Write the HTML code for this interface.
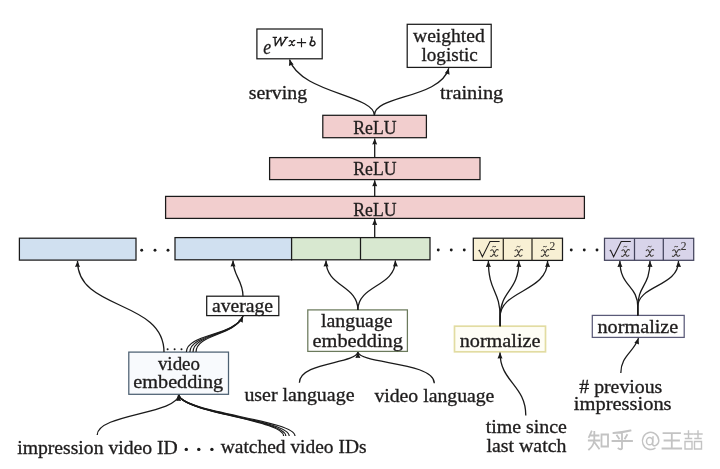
<!DOCTYPE html>
<html><head><meta charset="utf-8"><style>
html,body{margin:0;padding:0;background:#fff;}
svg{display:block;filter:blur(0.3px);}
text{font-family:"Liberation Serif",serif;stroke:#1e1c1c;stroke-width:0.3px;}
</style></head><body>
<svg width="720" height="469" viewBox="0 0 720 469">
<rect width="720" height="469" fill="#fff"/>
<rect x="256.9" y="29.0" width="65.30" height="29.80" fill="#fff" stroke="#1a1a1a" stroke-width="1.25"/>
<rect x="407.2" y="24.3" width="84.00" height="43.10" fill="#fff" stroke="#1a1a1a" stroke-width="1.25"/>
<rect x="322.8" y="115.3" width="103.60" height="22.40" fill="#f2cece" stroke="#1a1a1a" stroke-width="1.25"/>
<rect x="269.6" y="157.6" width="210.40" height="22.00" fill="#f2cece" stroke="#1a1a1a" stroke-width="1.25"/>
<rect x="165.6" y="196.4" width="418.80" height="22.00" fill="#f2cece" stroke="#1a1a1a" stroke-width="1.25"/>
<rect x="19.4" y="238.2" width="116.60" height="21.90" fill="#d0e0f0" stroke="#1a1a1a" stroke-width="1.25"/>
<rect x="175" y="237.6" width="116.60" height="22.20" fill="#d0e0f0" stroke="#1a1a1a" stroke-width="1.25"/>
<rect x="291.6" y="237.6" width="138.40" height="22.20" fill="#d8e8d0" stroke="#1a1a1a" stroke-width="1.25"/>
<line x1="360.5" y1="237.6" x2="360.5" y2="259.8" stroke="#1a1a1a" stroke-width="1.25"/>
<rect x="473.3" y="238.2" width="89.20" height="22.20" fill="#f8f0d4" stroke="#1a1a1a" stroke-width="1.25"/>
<line x1="503.3" y1="238.2" x2="503.3" y2="260.4" stroke="#2e2a20" stroke-width="1.25"/>
<line x1="532" y1="238.2" x2="532" y2="260.4" stroke="#2e2a20" stroke-width="1.25"/>
<rect x="604.5" y="238.3" width="89.20" height="22.00" fill="#d8d4ea" stroke="#44445c" stroke-width="1.25"/>
<line x1="634.5" y1="238.3" x2="634.5" y2="260.3" stroke="#44445c" stroke-width="1.25"/>
<line x1="663.3" y1="238.3" x2="663.3" y2="260.3" stroke="#44445c" stroke-width="1.25"/>
<circle cx="141.7" cy="250.3" r="1.45" fill="#1a1a1a"/>
<circle cx="155" cy="250.3" r="1.45" fill="#1a1a1a"/>
<circle cx="168" cy="250.3" r="1.45" fill="#1a1a1a"/>
<circle cx="438.25" cy="250" r="1.45" fill="#1a1a1a"/>
<circle cx="451.25" cy="250" r="1.45" fill="#1a1a1a"/>
<circle cx="464.25" cy="250" r="1.45" fill="#1a1a1a"/>
<circle cx="571.25" cy="250" r="1.45" fill="#1a1a1a"/>
<circle cx="584.25" cy="250" r="1.45" fill="#1a1a1a"/>
<circle cx="597" cy="250" r="1.45" fill="#1a1a1a"/>
<rect x="206.7" y="296.2" width="72.10" height="19.40" fill="#fff" stroke="#1a1a1a" stroke-width="1.25"/>
<rect x="128.8" y="352.1" width="99.70" height="42.20" fill="#f8fafd" stroke="#4c6072" stroke-width="1.25"/>
<rect x="307.8" y="309.9" width="99.60" height="41.50" fill="#fff" stroke="#6b7a5c" stroke-width="1.25"/>
<rect x="454.5" y="326.2" width="91.00" height="25.60" fill="#fefdf5" stroke="#e2dca2" stroke-width="1.7"/>
<rect x="592.3" y="315.4" width="91.90" height="22.00" fill="#fff" stroke="#5a5a78" stroke-width="1.25"/>
<circle cx="167.6" cy="349.2" r="1.0" fill="#1a1a1a"/>
<circle cx="174.6" cy="349.2" r="1.0" fill="#1a1a1a"/>
<circle cx="181.5" cy="349.2" r="1.0" fill="#1a1a1a"/>
<circle cx="186.3" cy="449.4" r="1.7" fill="#1a1a1a"/>
<circle cx="198.8" cy="449.4" r="1.7" fill="#1a1a1a"/>
<circle cx="211.9" cy="449.4" r="1.7" fill="#1a1a1a"/>
<text x="248.7" y="98.9" font-size="18.0" textLength="58.50" lengthAdjust="spacingAndGlyphs" fill="#1e1c1c">serving</text>
<text x="440" y="98.9" font-size="18.0" textLength="63.30" lengthAdjust="spacingAndGlyphs" fill="#1e1c1c">training</text>
<text x="413" y="42.0" font-size="18.0" textLength="71.80" lengthAdjust="spacingAndGlyphs" fill="#1e1c1c">weighted</text>
<text x="421.5" y="60.8" font-size="18.0" textLength="56.30" lengthAdjust="spacingAndGlyphs" fill="#1e1c1c">logistic</text>
<text x="353.3" y="133.8" font-size="18.0" textLength="43.20" lengthAdjust="spacingAndGlyphs" fill="#1e1c1c">ReLU</text>
<text x="353.3" y="175.3" font-size="18.0" textLength="43.20" lengthAdjust="spacingAndGlyphs" fill="#1e1c1c">ReLU</text>
<text x="353.3" y="216.1" font-size="18.0" textLength="43.20" lengthAdjust="spacingAndGlyphs" fill="#1e1c1c">ReLU</text>
<text x="211.9" y="311.9" font-size="18.0" textLength="61.20" lengthAdjust="spacingAndGlyphs" fill="#1e1c1c">average</text>
<text x="157.9" y="370.1" font-size="18.0" textLength="42.10" lengthAdjust="spacingAndGlyphs" fill="#1e1c1c">video</text>
<text x="133.3" y="388.2" font-size="18.0" textLength="89.90" lengthAdjust="spacingAndGlyphs" fill="#1e1c1c">embedding</text>
<text x="321" y="327.4" font-size="18.0" textLength="71.60" lengthAdjust="spacingAndGlyphs" fill="#1e1c1c">language</text>
<text x="312.6" y="346.9" font-size="18.0" textLength="90.30" lengthAdjust="spacingAndGlyphs" fill="#1e1c1c">embedding</text>
<text x="459.7" y="346.6" font-size="18.0" textLength="80.80" lengthAdjust="spacingAndGlyphs" fill="#1e1c1c">normalize</text>
<text x="597.5" y="333.0" font-size="18.0" textLength="80.80" lengthAdjust="spacingAndGlyphs" fill="#1e1c1c">normalize</text>
<text x="244.4" y="400.6" font-size="18.0" textLength="110.10" lengthAdjust="spacingAndGlyphs" fill="#1e1c1c">user language</text>
<text x="374.4" y="402.2" font-size="18.0" textLength="120.00" lengthAdjust="spacingAndGlyphs" fill="#1e1c1c">video language</text>
<text x="485.7" y="433.0" font-size="18.0" textLength="81.20" lengthAdjust="spacingAndGlyphs" fill="#1e1c1c">time since</text>
<text x="486.5" y="451.8" font-size="18.0" textLength="79.90" lengthAdjust="spacingAndGlyphs" fill="#1e1c1c">last watch</text>
<text x="579.3" y="392.8" font-size="18.0" textLength="83.00" lengthAdjust="spacingAndGlyphs" fill="#1e1c1c"># previous</text>
<text x="573.8" y="410.3" font-size="18.0" textLength="97.80" lengthAdjust="spacingAndGlyphs" fill="#1e1c1c">impressions</text>
<text x="17.2" y="453.8" font-size="18.0" textLength="160.60" lengthAdjust="spacingAndGlyphs" fill="#1e1c1c">impression video ID</text>
<text x="220.8" y="452.8" font-size="18.0" textLength="145.70" lengthAdjust="spacingAndGlyphs" fill="#1e1c1c">watched video IDs</text>
<text x="263.3" y="53.8" font-size="20" textLength="7.90" lengthAdjust="spacingAndGlyphs" fill="#1e1c1c" font-style="italic">e</text>
<path d="M272.6,37.4 H277 M284.2,37.4 H288.2 M274.9,37.4 L275.4,45.7 L280.6,37.6 L281.3,45.7 L286.6,37.4" fill="none" stroke="#1e1c1c" stroke-width="1.4" stroke-linejoin="round"/>
<path d="M289.06,41.49 C289.59,40.35 290.80,40.12 291.26,41.41 L292.32,44.66 C292.62,45.80 294.06,45.88 294.74,44.44 M295.05,41.03 C294.74,40.20 293.61,40.20 293.08,41.11 L290.65,44.97 C290.12,45.88 289.13,45.88 288.75,45.12" fill="none" stroke="#1e1c1c" stroke-width="1.25"/>
<path d="M301.5,38.3 V47.2 M296.9,42.6 H306.1" fill="none" stroke="#1e1c1c" stroke-width="1.15"/>
<path d="M310.4,37.1 H312.2 L310.0,45.3" fill="none" stroke="#1e1c1c" stroke-width="1.35"/>
<ellipse cx="312.6" cy="43.4" rx="2.4" ry="2.3" fill="none" stroke="#1e1c1c" stroke-width="1.3" transform="rotate(-20 312.6 43.4)"/>
<path d="M374.4,115.3 C374.4,95 300,93 289.5,59.5" fill="none" stroke="#1a1a1a" stroke-width="1.3"/>
<path d="M289.50,59.50 L293.68,64.48 L291.20,64.94 L288.91,65.97 Z" fill="#1a1a1a"/>
<path d="M374.4,115.3 C374.4,95 440,99 448.8,68.2" fill="none" stroke="#1a1a1a" stroke-width="1.3"/>
<path d="M448.80,68.20 L449.56,74.66 L447.23,73.68 L444.75,73.28 Z" fill="#1a1a1a"/>
<path d="M374.7,157.6 L374.7,138.4" fill="none" stroke="#1a1a1a" stroke-width="1.3"/>
<path d="M374.70,138.40 L377.20,144.40 L374.70,144.10 L372.20,144.40 Z" fill="#1a1a1a"/>
<path d="M374.7,196.4 L374.7,180.3" fill="none" stroke="#1a1a1a" stroke-width="1.3"/>
<path d="M374.70,180.30 L377.20,186.30 L374.70,186.00 L372.20,186.30 Z" fill="#1a1a1a"/>
<path d="M374.7,237.6 L374.7,219.1" fill="none" stroke="#1a1a1a" stroke-width="1.3"/>
<path d="M374.70,219.10 L377.20,225.10 L374.70,224.80 L372.20,225.10 Z" fill="#1a1a1a"/>
<path d="M164,352.1 C164,299.2 77.5,311.4 77.5,260.9" fill="none" stroke="#1a1a1a" stroke-width="1.3"/>
<path d="M77.50,260.90 L80.00,266.90 L77.50,266.60 L75.00,266.90 Z" fill="#1a1a1a"/>
<path d="M243,296.2 C243,280 233,276 233,260.6" fill="none" stroke="#1a1a1a" stroke-width="1.3"/>
<path d="M233.00,260.60 L235.50,266.60 L233.00,266.30 L230.50,266.60 Z" fill="#1a1a1a"/>
<path d="M357.9,309.9 C357.9,285 326,287 326,260.6" fill="none" stroke="#1a1a1a" stroke-width="1.3"/>
<path d="M326.00,260.60 L328.50,266.60 L326.00,266.30 L323.50,266.60 Z" fill="#1a1a1a"/>
<path d="M357.9,309.9 C357.9,285 395.4,287 395.4,260.6" fill="none" stroke="#1a1a1a" stroke-width="1.3"/>
<path d="M395.40,260.60 L397.90,266.60 L395.40,266.30 L392.90,266.60 Z" fill="#1a1a1a"/>
<path d="M500.1,326.2 L500.1,317 C500.1,290 488.4,292 488.4,261.1" fill="none" stroke="#1a1a1a" stroke-width="1.3"/>
<path d="M488.40,261.10 L490.90,267.10 L488.40,266.80 L485.90,267.10 Z" fill="#1a1a1a"/>
<path d="M500.1,326.2 L500.1,317 C500.1,290 518.8,292 518.8,261.1" fill="none" stroke="#1a1a1a" stroke-width="1.3"/>
<path d="M518.80,261.10 L521.30,267.10 L518.80,266.80 L516.30,267.10 Z" fill="#1a1a1a"/>
<path d="M500.1,326.2 L500.1,317 C500.1,290 547.6,292 547.6,261.1" fill="none" stroke="#1a1a1a" stroke-width="1.3"/>
<path d="M547.60,261.10 L550.10,267.10 L547.60,266.80 L545.10,267.10 Z" fill="#1a1a1a"/>
<path d="M637.8,315.4 L637.8,307 C637.8,285 619.9,287 619.9,261.0" fill="none" stroke="#1a1a1a" stroke-width="1.3"/>
<path d="M619.90,261.00 L622.40,267.00 L619.90,266.70 L617.40,267.00 Z" fill="#1a1a1a"/>
<path d="M637.8,315.4 L637.8,307 C637.8,285 650,287 650,261.0" fill="none" stroke="#1a1a1a" stroke-width="1.3"/>
<path d="M650.00,261.00 L652.50,267.00 L650.00,266.70 L647.50,267.00 Z" fill="#1a1a1a"/>
<path d="M637.8,315.4 L637.8,307 C637.8,285 678.5,287 678.5,261.0" fill="none" stroke="#1a1a1a" stroke-width="1.3"/>
<path d="M678.50,261.00 L681.00,267.00 L678.50,266.70 L676.00,267.00 Z" fill="#1a1a1a"/>
<path d="M525.8,415.5 C525.8,385 500,382 500,352.5" fill="none" stroke="#1a1a1a" stroke-width="1.3"/>
<path d="M500.00,352.50 L502.50,358.50 L500.00,358.20 L497.50,358.50 Z" fill="#1a1a1a"/>
<path d="M620.8,373 C620.8,356 634,352 638.5,338.1" fill="none" stroke="#1a1a1a" stroke-width="1.3"/>
<path d="M638.50,338.10 L639.03,344.58 L636.74,343.52 L634.27,343.04 Z" fill="#1a1a1a"/>
<path d="M299.4,382.8 C299.4,362 355,364 357.9,352.1" fill="none" stroke="#1a1a1a" stroke-width="1.3"/>
<path d="M434.3,383.2 C434.3,362 360.8,364 357.9,352.1" fill="none" stroke="#1a1a1a" stroke-width="1.3"/>
<path d="M357.90,352.10 L360.40,358.10 L357.90,357.80 L355.40,358.10 Z" fill="#1a1a1a"/>
<path d="M97.2,435 C97.2,414 177,414 178.6,395.0" fill="none" stroke="#1a1a1a" stroke-width="1.3"/>
<path d="M283.6,436 C283.6,420 184,413 178.6,395.0" fill="none" stroke="#1a1a1a" stroke-width="1.2"/>
<path d="M285.8,436 C285.8,420 184,413 178.6,395.0" fill="none" stroke="#1a1a1a" stroke-width="1.2"/>
<path d="M289.2,436 C289.2,420 184,413 178.6,395.0" fill="none" stroke="#1a1a1a" stroke-width="1.2"/>
<path d="M295.0,436 C295.0,420 184,413 178.6,395.0" fill="none" stroke="#1a1a1a" stroke-width="1.2"/>
<path d="M178.60,395.00 L181.10,401.00 L178.60,400.70 L176.10,401.00 Z" fill="#1a1a1a"/>
<path d="M186.4,352.1 C186.4,334 234,336 243,316.3" fill="none" stroke="#1a1a1a" stroke-width="1.15"/>
<path d="M189.9,352.1 C189.9,334 234,336 243,316.3" fill="none" stroke="#1a1a1a" stroke-width="1.15"/>
<path d="M193.0,352.1 C193.0,334 234,336 243,316.3" fill="none" stroke="#1a1a1a" stroke-width="1.15"/>
<path d="M196.0,352.1 C196.0,334 234,336 243,316.3" fill="none" stroke="#1a1a1a" stroke-width="1.15"/>
<path d="M243.00,316.30 L242.78,322.80 L240.63,321.48 L238.23,320.72 Z" fill="#1a1a1a"/>
<path d="M478.5,250.9 l0.9,-0.6 l3.0,6.5 l7.6,-15.3 h9.6" fill="none" stroke="#1e1c1c" stroke-width="1.05"/>
<path d="M490.50,251.00 C491.20,249.50 492.80,249.20 493.40,250.90 L494.80,255.20 C495.20,256.70 497.10,256.80 498.00,254.90 M498.40,250.40 C498.00,249.30 496.50,249.30 495.80,250.50 L492.60,255.60 C491.90,256.80 490.60,256.80 490.10,255.80" fill="none" stroke="#3a3632" stroke-width="1.05"/>
<path d="M492.2,247.1 q0.9,-1.2 1.9,-0.5 t1.9,-0.4" fill="none" stroke="#3a3632" stroke-width="0.85"/>
<path d="M514.80,251.00 C515.50,249.50 517.10,249.20 517.70,250.90 L519.10,255.20 C519.50,256.70 521.40,256.80 522.30,254.90 M522.70,250.40 C522.30,249.30 520.80,249.30 520.10,250.50 L516.90,255.60 C516.20,256.80 514.90,256.80 514.40,255.80" fill="none" stroke="#3a3632" stroke-width="1.05"/>
<path d="M516.5,247.1 q0.9,-1.2 1.9,-0.5 t1.9,-0.4" fill="none" stroke="#3a3632" stroke-width="0.85"/>
<path d="M541.30,251.00 C542.00,249.50 543.60,249.20 544.20,250.90 L545.60,255.20 C546.00,256.70 547.90,256.80 548.80,254.90 M549.20,250.40 C548.80,249.30 547.30,249.30 546.60,250.50 L543.40,255.60 C542.70,256.80 541.40,256.80 540.90,255.80" fill="none" stroke="#3a3632" stroke-width="1.05"/>
<path d="M543.0,247.1 q0.9,-1.2 1.9,-0.5 t1.9,-0.4" fill="none" stroke="#3a3632" stroke-width="0.85"/>
<text x="549.5" y="250.0" font-size="11.5" fill="#3a3632" style="stroke-width:0.1px">2</text>
<path d="M609.7,250.9 l0.9,-0.6 l3.0,6.5 l7.6,-15.3 h9.6" fill="none" stroke="#1e1c1c" stroke-width="1.05"/>
<path d="M621.70,251.00 C622.40,249.50 624.00,249.20 624.60,250.90 L626.00,255.20 C626.40,256.70 628.30,256.80 629.20,254.90 M629.60,250.40 C629.20,249.30 627.70,249.30 627.00,250.50 L623.80,255.60 C623.10,256.80 621.80,256.80 621.30,255.80" fill="none" stroke="#3a3632" stroke-width="1.05"/>
<path d="M623.4,247.1 q0.9,-1.2 1.9,-0.5 t1.9,-0.4" fill="none" stroke="#3a3632" stroke-width="0.85"/>
<path d="M646.00,251.00 C646.70,249.50 648.30,249.20 648.90,250.90 L650.30,255.20 C650.70,256.70 652.60,256.80 653.50,254.90 M653.90,250.40 C653.50,249.30 652.00,249.30 651.30,250.50 L648.10,255.60 C647.40,256.80 646.10,256.80 645.60,255.80" fill="none" stroke="#3a3632" stroke-width="1.05"/>
<path d="M647.7,247.1 q0.9,-1.2 1.9,-0.5 t1.9,-0.4" fill="none" stroke="#3a3632" stroke-width="0.85"/>
<path d="M672.50,251.00 C673.20,249.50 674.80,249.20 675.40,250.90 L676.80,255.20 C677.20,256.70 679.10,256.80 680.00,254.90 M680.40,250.40 C680.00,249.30 678.50,249.30 677.80,250.50 L674.60,255.60 C673.90,256.80 672.60,256.80 672.10,255.80" fill="none" stroke="#3a3632" stroke-width="1.05"/>
<path d="M674.2,247.1 q0.9,-1.2 1.9,-0.5 t1.9,-0.4" fill="none" stroke="#3a3632" stroke-width="0.85"/>
<text x="680.7" y="250.0" font-size="11.5" fill="#3a3632" style="stroke-width:0.1px">2</text>
<path d="M591.5,431.5 L589,437 M590,435.5 H598.5 M588.8,440.5 H599.5 M594.3,432 V440 Q593.5,446 589,449.5 M595,443 L599,448.5" fill="none" stroke="#c3c3c3" stroke-width="1.8" stroke-linecap="square"/>
<path d="M601.5,434.5 H608 V446.5 H601.5 Z" fill="none" stroke="#c3c3c3" stroke-width="1.8" stroke-linecap="square"/>
<path d="M613.5,433 Q622,432.5 630.5,430.5 M617,435.5 L619,438.5 M627,435 L625,438.5 M612.5,441 H632 M622,433 V448.5 Q621,450 618.5,448.5" fill="none" stroke="#c3c3c3" stroke-width="1.8" stroke-linecap="square"/>
<ellipse cx="649.6" cy="441.2" rx="3.1" ry="3.6" fill="none" stroke="#c3c3c3" stroke-width="1.5"/>
<path d="M653,437 L652.6,444 Q653,446.3 655.4,445.6 Q658.8,444 658.8,440.5 A8.2,8.6 0 1 0 654.8,448.3" fill="none" stroke="#c3c3c3" stroke-width="1.5" stroke-linecap="square"/>
<path d="M663.5,433.2 H680 M664.5,440.5 H679 M662.5,448.5 H681.2 M671.8,433.2 V448.5" fill="none" stroke="#c3c3c3" stroke-width="1.8" stroke-linecap="square"/>
<path d="M684.5,434 H692.5 M688.5,431 V438.5 M685.5,438.5 H691.5 M685.0,441.5 H692.0 V449 H685.0 Z" fill="none" stroke="#c3c3c3" stroke-width="1.4" stroke-linecap="square"/>
<path d="M694,434 H702 M698,431 V438.5 M695,438.5 H701 M694.5,441.5 H701.5 V449 H694.5 Z" fill="none" stroke="#c3c3c3" stroke-width="1.4" stroke-linecap="square"/>
</svg></body></html>
